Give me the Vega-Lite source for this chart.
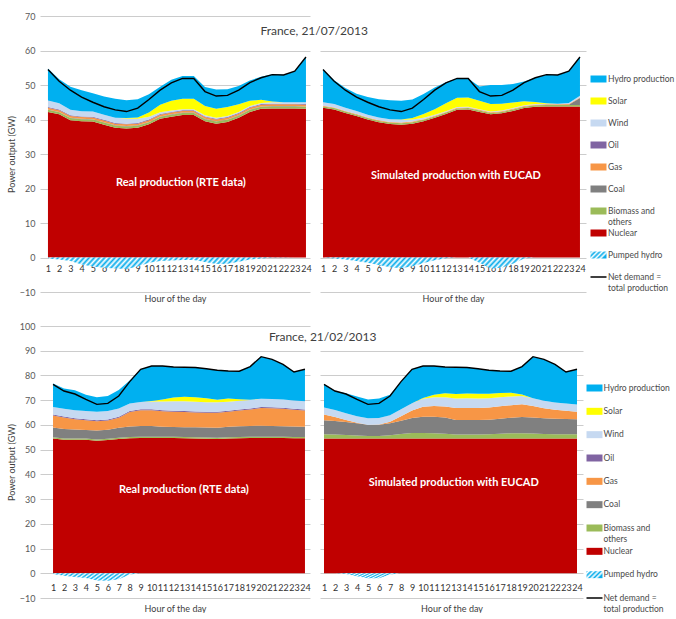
{
  "$schema": "https://vega.github.io/schema/vega-lite/v6.json",
  "background": "white",
  "padding": {"left": 7, "top": 12, "right": 0, "bottom": 0},
  "config": {
    "view": {"stroke": null},
    "font": "Lato",
    "axis": {"labelFont": "Lato", "titleFont": "Lato", "labelOverlap": false, "labelFlush": false, "labelBound": false},
    "axisX": {"domain": false, "ticks": false, "grid": false, "labelOverlap": false, "labelFontSize": 9, "labelColor": "#333333", "titleFontSize": 9, "titleFontWeight": "normal", "titleColor": "#404040"},
    "axisY": {"domain": false, "ticks": false, "grid": true, "gridColor": "#cccccc", "labelOverlap": false, "labelColor": "#595959", "labelFontSize": 9, "labelPadding": 5, "titleFontSize": 9, "titleFontWeight": "normal", "titleColor": "#404040", "titlePadding": 3},
    "title": {"font": "Lato"},
    "text": {"font": "Lato"}
  },
  "datasets": {
    "mix": [
      {"p":"TL","h":1,"Nuclear":42.2,"Biomass":0.6,"Coal":0.1,"Gas":0.5,"Oil":0.2,"Wind":1.9,"Solar":0,"Hydro":9.3,"Pumped":-0.3,"Demand":54.5},
      {"p":"TL","h":2,"Nuclear":41.5,"Biomass":0.6,"Coal":0.1,"Gas":0.5,"Oil":0.2,"Wind":1.8,"Solar":0,"Hydro":7.0,"Pumped":-0.6,"Demand":51.1},
      {"p":"TL","h":3,"Nuclear":39.8,"Biomass":0.6,"Coal":0.1,"Gas":0.5,"Oil":0.2,"Wind":1.6,"Solar":0,"Hydro":6.7,"Pumped":-1.0,"Demand":48.5},
      {"p":"TL","h":4,"Nuclear":39.5,"Biomass":0.6,"Coal":0.1,"Gas":0.5,"Oil":0.2,"Wind":1.5,"Solar":0,"Hydro":6.1,"Pumped":-2.0,"Demand":46.5},
      {"p":"TL","h":5,"Nuclear":39.4,"Biomass":0.6,"Coal":0.1,"Gas":0.5,"Oil":0.2,"Wind":1.5,"Solar":0,"Hydro":5.3,"Pumped":-2.6,"Demand":45.0},
      {"p":"TL","h":6,"Nuclear":38.5,"Biomass":0.6,"Coal":0.1,"Gas":0.5,"Oil":0.2,"Wind":1.5,"Solar":0,"Hydro":5.3,"Pumped":-3.0,"Demand":43.7},
      {"p":"TL","h":7,"Nuclear":37.6,"Biomass":0.6,"Coal":0.1,"Gas":0.5,"Oil":0.2,"Wind":1.5,"Solar":0,"Hydro":5.5,"Pumped":-3.2,"Demand":42.8},
      {"p":"TL","h":8,"Nuclear":37.4,"Biomass":0.6,"Coal":0.1,"Gas":0.5,"Oil":0.2,"Wind":1.5,"Solar":0.1,"Hydro":5.2,"Pumped":-3.3,"Demand":42.3},
      {"p":"TL","h":9,"Nuclear":37.6,"Biomass":0.6,"Coal":0.1,"Gas":0.5,"Oil":0.2,"Wind":1.2,"Solar":0.4,"Hydro":5.3,"Pumped":-2.6,"Demand":43.3},
      {"p":"TL","h":10,"Nuclear":38.6,"Biomass":0.6,"Coal":0.1,"Gas":0.5,"Oil":0.2,"Wind":0.8,"Solar":1.2,"Hydro":5.3,"Pumped":-1.5,"Demand":45.8},
      {"p":"TL","h":11,"Nuclear":40.2,"Biomass":0.6,"Coal":0.1,"Gas":0.5,"Oil":0.2,"Wind":0.5,"Solar":2.2,"Hydro":5.2,"Pumped":-1.0,"Demand":48.5},
      {"p":"TL","h":12,"Nuclear":40.8,"Biomass":0.6,"Coal":0.1,"Gas":0.5,"Oil":0.2,"Wind":0.4,"Solar":2.8,"Hydro":6.1,"Pumped":-0.9,"Demand":50.6},
      {"p":"TL","h":13,"Nuclear":41.3,"Biomass":0.6,"Coal":0.1,"Gas":0.5,"Oil":0.2,"Wind":0.3,"Solar":3.0,"Hydro":6.6,"Pumped":-0.7,"Demand":51.9},
      {"p":"TL","h":14,"Nuclear":41.3,"Biomass":0.6,"Coal":0.1,"Gas":0.5,"Oil":0.2,"Wind":0.3,"Solar":3.0,"Hydro":6.6,"Pumped":-0.7,"Demand":51.9},
      {"p":"TL","h":15,"Nuclear":39.5,"Biomass":0.6,"Coal":0.1,"Gas":0.5,"Oil":0.2,"Wind":0.3,"Solar":2.7,"Hydro":5.5,"Pumped":-1.3,"Demand":48.1},
      {"p":"TL","h":16,"Nuclear":38.8,"Biomass":0.6,"Coal":0.1,"Gas":0.5,"Oil":0.2,"Wind":0.3,"Solar":2.6,"Hydro":5.6,"Pumped":-1.9,"Demand":46.8},
      {"p":"TL","h":17,"Nuclear":39.3,"Biomass":0.6,"Coal":0.1,"Gas":0.5,"Oil":0.2,"Wind":0.3,"Solar":2.6,"Hydro":5.2,"Pumped":-1.8,"Demand":47.0},
      {"p":"TL","h":18,"Nuclear":40.5,"Biomass":0.6,"Coal":0.1,"Gas":0.5,"Oil":0.2,"Wind":0.3,"Solar":2.2,"Hydro":5.3,"Pumped":-1.2,"Demand":48.5},
      {"p":"TL","h":19,"Nuclear":42.2,"Biomass":0.6,"Coal":0.1,"Gas":0.5,"Oil":0.2,"Wind":0.3,"Solar":1.5,"Hydro":5.9,"Pumped":-0.6,"Demand":50.7},
      {"p":"TL","h":20,"Nuclear":43.1,"Biomass":0.6,"Coal":0.1,"Gas":0.5,"Oil":0.2,"Wind":0.3,"Solar":0.9,"Hydro":6.7,"Pumped":-0.3,"Demand":52.1},
      {"p":"TL","h":21,"Nuclear":43.2,"Biomass":0.6,"Coal":0.1,"Gas":0.5,"Oil":0.2,"Wind":0.4,"Solar":0.2,"Hydro":7.9,"Pumped":-0.1,"Demand":53.0},
      {"p":"TL","h":22,"Nuclear":43.2,"Biomass":0.6,"Coal":0.1,"Gas":0.5,"Oil":0.2,"Wind":0.4,"Solar":0,"Hydro":8.0,"Pumped":-0.1,"Demand":52.9},
      {"p":"TL","h":23,"Nuclear":43.2,"Biomass":0.6,"Coal":0.1,"Gas":0.5,"Oil":0.2,"Wind":0.4,"Solar":0,"Hydro":9.0,"Pumped":0,"Demand":54.0},
      {"p":"TL","h":24,"Nuclear":43.1,"Biomass":0.6,"Coal":0.1,"Gas":0.5,"Oil":0.2,"Wind":0.5,"Solar":0,"Hydro":13.1,"Pumped":0,"Demand":58.1},

      {"p":"TR","h":1,"Nuclear":43.4,"Biomass":0.4,"Coal":0,"Gas":0.2,"Oil":0,"Wind":1.0,"Solar":0,"Hydro":9.5,"Pumped":0,"Demand":54.5},
      {"p":"TR","h":2,"Nuclear":42.9,"Biomass":0.4,"Coal":0,"Gas":0.2,"Oil":0,"Wind":1.0,"Solar":0,"Hydro":6.9,"Pumped":-0.3,"Demand":51.1},
      {"p":"TR","h":3,"Nuclear":41.9,"Biomass":0.4,"Coal":0,"Gas":0.2,"Oil":0,"Wind":0.9,"Solar":0,"Hydro":5.7,"Pumped":-0.6,"Demand":48.5},
      {"p":"TR","h":4,"Nuclear":41.0,"Biomass":0.4,"Coal":0,"Gas":0.2,"Oil":0,"Wind":0.9,"Solar":0,"Hydro":5.0,"Pumped":-1.0,"Demand":46.5},
      {"p":"TR","h":5,"Nuclear":40.0,"Biomass":0.4,"Coal":0,"Gas":0.2,"Oil":0,"Wind":0.8,"Solar":0,"Hydro":5.1,"Pumped":-1.5,"Demand":45.0},
      {"p":"TR","h":6,"Nuclear":39.2,"Biomass":0.4,"Coal":0,"Gas":0.2,"Oil":0,"Wind":0.8,"Solar":0,"Hydro":5.3,"Pumped":-2.2,"Demand":43.7},
      {"p":"TR","h":7,"Nuclear":38.7,"Biomass":0.4,"Coal":0,"Gas":0.2,"Oil":0,"Wind":0.8,"Solar":0,"Hydro":5.5,"Pumped":-2.8,"Demand":42.8},
      {"p":"TR","h":8,"Nuclear":38.5,"Biomass":0.4,"Coal":0,"Gas":0.2,"Oil":0,"Wind":0.8,"Solar":0.1,"Hydro":5.4,"Pumped":-3.1,"Demand":42.3},
      {"p":"TR","h":9,"Nuclear":38.8,"Biomass":0.4,"Coal":0,"Gas":0.2,"Oil":0,"Wind":0.6,"Solar":0.4,"Hydro":5.4,"Pumped":-2.5,"Demand":43.3},
      {"p":"TR","h":10,"Nuclear":39.5,"Biomass":0.4,"Coal":0,"Gas":0.2,"Oil":0,"Wind":0.4,"Solar":1.1,"Hydro":5.8,"Pumped":-1.6,"Demand":45.8},
      {"p":"TR","h":11,"Nuclear":40.5,"Biomass":0.4,"Coal":0,"Gas":0.2,"Oil":0,"Wind":0.3,"Solar":1.6,"Hydro":6.3,"Pumped":-0.8,"Demand":48.5},
      {"p":"TR","h":12,"Nuclear":41.6,"Biomass":0.4,"Coal":0,"Gas":0.2,"Oil":0,"Wind":0.2,"Solar":2.3,"Hydro":6.1,"Pumped":-0.2,"Demand":50.6},
      {"p":"TR","h":13,"Nuclear":42.8,"Biomass":0.4,"Coal":0,"Gas":0.2,"Oil":0,"Wind":0.2,"Solar":2.7,"Hydro":5.6,"Pumped":0,"Demand":51.9},
      {"p":"TR","h":14,"Nuclear":42.9,"Biomass":0.4,"Coal":0,"Gas":0.2,"Oil":0,"Wind":0.2,"Solar":2.7,"Hydro":5.5,"Pumped":0,"Demand":51.9},
      {"p":"TR","h":15,"Nuclear":42.2,"Biomass":0.4,"Coal":0,"Gas":0.2,"Oil":0,"Wind":0.2,"Solar":2.4,"Hydro":4.2,"Pumped":-1.5,"Demand":48.1},
      {"p":"TR","h":16,"Nuclear":41.5,"Biomass":0.4,"Coal":0,"Gas":0.2,"Oil":0,"Wind":0.2,"Solar":2.2,"Hydro":5.5,"Pumped":-3.2,"Demand":46.8},
      {"p":"TR","h":17,"Nuclear":41.8,"Biomass":0.4,"Coal":0,"Gas":0.2,"Oil":0,"Wind":0.2,"Solar":2.0,"Hydro":5.4,"Pumped":-3.0,"Demand":47.0},
      {"p":"TR","h":18,"Nuclear":42.5,"Biomass":0.4,"Coal":0,"Gas":0.2,"Oil":0,"Wind":0.2,"Solar":1.6,"Hydro":5.4,"Pumped":-1.8,"Demand":48.5},
      {"p":"TR","h":19,"Nuclear":43.3,"Biomass":0.4,"Coal":0,"Gas":0.2,"Oil":0,"Wind":0.2,"Solar":1.2,"Hydro":5.7,"Pumped":-0.3,"Demand":50.7},
      {"p":"TR","h":20,"Nuclear":43.7,"Biomass":0.4,"Coal":0,"Gas":0.2,"Oil":0,"Wind":0.2,"Solar":0.6,"Hydro":7.0,"Pumped":0,"Demand":52.1},
      {"p":"TR","h":21,"Nuclear":43.8,"Biomass":0.4,"Coal":0,"Gas":0.2,"Oil":0,"Wind":0.2,"Solar":0.1,"Hydro":8.3,"Pumped":0,"Demand":53.0},
      {"p":"TR","h":22,"Nuclear":43.8,"Biomass":0.4,"Coal":0,"Gas":0.2,"Oil":0,"Wind":0.2,"Solar":0,"Hydro":8.3,"Pumped":0,"Demand":52.9},
      {"p":"TR","h":23,"Nuclear":43.8,"Biomass":0.4,"Coal":0.1,"Gas":0.2,"Oil":0,"Wind":0.3,"Solar":0,"Hydro":9.2,"Pumped":0,"Demand":54.0},
      {"p":"TR","h":24,"Nuclear":43.8,"Biomass":0.4,"Coal":2.0,"Gas":0.2,"Oil":0,"Wind":0.5,"Solar":0,"Hydro":11.2,"Pumped":0,"Demand":58.1},

      {"p":"BL","h":1,"Nuclear":54.5,"Biomass":0.5,"Coal":4.0,"Gas":4.8,"Oil":0.4,"Wind":3.0,"Solar":0,"Hydro":9.5,"Pumped":-0.3,"Demand":76.4},
      {"p":"BL","h":2,"Nuclear":54.0,"Biomass":0.5,"Coal":3.8,"Gas":4.7,"Oil":0.4,"Wind":3.1,"Solar":0,"Hydro":8.2,"Pumped":-1.0,"Demand":73.7},
      {"p":"BL","h":3,"Nuclear":54.0,"Biomass":0.5,"Coal":3.6,"Gas":4.2,"Oil":0.4,"Wind":3.2,"Solar":0,"Hydro":8.1,"Pumped":-1.5,"Demand":72.5},
      {"p":"BL","h":4,"Nuclear":54.0,"Biomass":0.5,"Coal":3.4,"Gas":4.0,"Oil":0.4,"Wind":3.3,"Solar":0,"Hydro":6.6,"Pumped":-1.9,"Demand":70.3},
      {"p":"BL","h":5,"Nuclear":53.6,"Biomass":0.5,"Coal":3.6,"Gas":3.8,"Oil":0.4,"Wind":3.4,"Solar":0,"Hydro":5.9,"Pumped":-2.9,"Demand":68.3},
      {"p":"BL","h":6,"Nuclear":53.9,"Biomass":0.5,"Coal":3.6,"Gas":3.8,"Oil":0.4,"Wind":3.4,"Solar":0,"Hydro":6.1,"Pumped":-3.0,"Demand":68.7},
      {"p":"BL","h":7,"Nuclear":54.3,"Biomass":0.5,"Coal":4.1,"Gas":4.0,"Oil":0.4,"Wind":3.3,"Solar":0,"Hydro":7.5,"Pumped":-2.4,"Demand":71.7},
      {"p":"BL","h":8,"Nuclear":54.6,"Biomass":0.5,"Coal":4.3,"Gas":5.8,"Oil":0.4,"Wind":3.1,"Solar":0,"Hydro":9.3,"Pumped":-0.5,"Demand":77.5},
      {"p":"BL","h":9,"Nuclear":54.7,"Biomass":0.5,"Coal":4.4,"Gas":6.3,"Oil":0.4,"Wind":3.0,"Solar":0,"Hydro":13.2,"Pumped":0,"Demand":82.5},
      {"p":"BL","h":10,"Nuclear":54.7,"Biomass":0.5,"Coal":4.4,"Gas":6.3,"Oil":0.4,"Wind":3.2,"Solar":0.2,"Hydro":14.1,"Pumped":0,"Demand":83.8},
      {"p":"BL","h":11,"Nuclear":54.7,"Biomass":0.5,"Coal":4.1,"Gas":6.2,"Oil":0.4,"Wind":3.6,"Solar":0.8,"Hydro":13.5,"Pumped":0,"Demand":83.8},
      {"p":"BL","h":12,"Nuclear":54.7,"Biomass":0.5,"Coal":4.0,"Gas":6.1,"Oil":0.4,"Wind":3.9,"Solar":1.5,"Hydro":12.3,"Pumped":0,"Demand":83.4},
      {"p":"BL","h":13,"Nuclear":54.6,"Biomass":0.5,"Coal":4.0,"Gas":6.1,"Oil":0.4,"Wind":4.0,"Solar":1.8,"Hydro":11.9,"Pumped":0,"Demand":83.3},
      {"p":"BL","h":14,"Nuclear":54.5,"Biomass":0.5,"Coal":4.1,"Gas":5.9,"Oil":0.4,"Wind":4.0,"Solar":1.8,"Hydro":12.0,"Pumped":0,"Demand":83.2},
      {"p":"BL","h":15,"Nuclear":54.4,"Biomass":0.5,"Coal":4.1,"Gas":5.9,"Oil":0.4,"Wind":3.9,"Solar":1.6,"Hydro":11.9,"Pumped":0,"Demand":82.7},
      {"p":"BL","h":16,"Nuclear":54.3,"Biomass":0.5,"Coal":4.1,"Gas":6.0,"Oil":0.4,"Wind":3.9,"Solar":1.0,"Hydro":11.9,"Pumped":0,"Demand":82.1},
      {"p":"BL","h":17,"Nuclear":54.5,"Biomass":0.5,"Coal":4.3,"Gas":6.0,"Oil":0.4,"Wind":3.7,"Solar":1.3,"Hydro":11.1,"Pumped":0,"Demand":81.8},
      {"p":"BL","h":18,"Nuclear":54.6,"Biomass":0.5,"Coal":4.4,"Gas":6.3,"Oil":0.4,"Wind":3.6,"Solar":0.6,"Hydro":11.3,"Pumped":0,"Demand":81.7},
      {"p":"BL","h":19,"Nuclear":54.7,"Biomass":0.5,"Coal":4.4,"Gas":6.6,"Oil":0.4,"Wind":3.5,"Solar":0.1,"Hydro":13.4,"Pumped":0,"Demand":83.6},
      {"p":"BL","h":20,"Nuclear":54.7,"Biomass":0.5,"Coal":4.5,"Gas":7.1,"Oil":0.4,"Wind":3.4,"Solar":0,"Hydro":17.0,"Pumped":0,"Demand":87.6},
      {"p":"BL","h":21,"Nuclear":54.7,"Biomass":0.5,"Coal":4.4,"Gas":7.1,"Oil":0.4,"Wind":3.4,"Solar":0,"Hydro":16.0,"Pumped":0,"Demand":86.5},
      {"p":"BL","h":22,"Nuclear":54.7,"Biomass":0.5,"Coal":4.3,"Gas":7.0,"Oil":0.4,"Wind":3.4,"Solar":0,"Hydro":14.2,"Pumped":0,"Demand":84.5},
      {"p":"BL","h":23,"Nuclear":54.6,"Biomass":0.5,"Coal":4.3,"Gas":6.7,"Oil":0.4,"Wind":3.4,"Solar":0,"Hydro":11.5,"Pumped":0,"Demand":81.4},
      {"p":"BL","h":24,"Nuclear":54.6,"Biomass":0.5,"Coal":4.2,"Gas":6.5,"Oil":0.4,"Wind":3.4,"Solar":0,"Hydro":12.9,"Pumped":0,"Demand":82.5},

      {"p":"BR","h":1,"Nuclear":54.5,"Biomass":1.7,"Coal":5.7,"Gas":2.3,"Oil":0,"Wind":2.8,"Solar":0,"Hydro":9.4,"Pumped":0,"Demand":76.4},
      {"p":"BR","h":2,"Nuclear":54.5,"Biomass":1.6,"Coal":5.5,"Gas":1.6,"Oil":0,"Wind":2.8,"Solar":0,"Hydro":7.7,"Pumped":0,"Demand":73.7},
      {"p":"BR","h":3,"Nuclear":54.5,"Biomass":1.4,"Coal":5.3,"Gas":0.8,"Oil":0,"Wind":2.7,"Solar":0,"Hydro":8.1,"Pumped":-0.3,"Demand":72.5},
      {"p":"BR","h":4,"Nuclear":54.5,"Biomass":1.2,"Coal":5.0,"Gas":0.2,"Oil":0,"Wind":2.6,"Solar":0,"Hydro":8.0,"Pumped":-1.2,"Demand":70.3},
      {"p":"BR","h":5,"Nuclear":54.5,"Biomass":1.0,"Coal":4.6,"Gas":0,"Oil":0,"Wind":2.6,"Solar":0,"Hydro":7.6,"Pumped":-2.0,"Demand":68.3},
      {"p":"BR","h":6,"Nuclear":54.5,"Biomass":1.0,"Coal":4.6,"Gas":0.1,"Oil":0,"Wind":2.6,"Solar":0,"Hydro":7.9,"Pumped":-2.0,"Demand":68.7},
      {"p":"BR","h":7,"Nuclear":54.5,"Biomass":1.3,"Coal":4.9,"Gas":0.6,"Oil":0,"Wind":2.6,"Solar":0,"Hydro":8.3,"Pumped":-0.5,"Demand":71.7},
      {"p":"BR","h":8,"Nuclear":54.5,"Biomass":1.8,"Coal":5.4,"Gas":1.8,"Oil":0,"Wind":2.8,"Solar":0,"Hydro":11.2,"Pumped":0,"Demand":77.5},
      {"p":"BR","h":9,"Nuclear":54.5,"Biomass":2.2,"Coal":6.1,"Gas":3.0,"Oil":0,"Wind":3.0,"Solar":0,"Hydro":13.7,"Pumped":0,"Demand":82.5},
      {"p":"BR","h":10,"Nuclear":54.5,"Biomass":2.2,"Coal":6.6,"Gas":4.0,"Oil":0,"Wind":3.3,"Solar":0.3,"Hydro":12.9,"Pumped":0,"Demand":83.8},
      {"p":"BR","h":11,"Nuclear":54.5,"Biomass":2.1,"Coal":6.7,"Gas":4.3,"Oil":0,"Wind":3.6,"Solar":1.0,"Hydro":11.6,"Pumped":0,"Demand":83.8},
      {"p":"BR","h":12,"Nuclear":54.5,"Biomass":1.9,"Coal":6.6,"Gas":4.4,"Oil":0,"Wind":3.8,"Solar":1.6,"Hydro":10.6,"Pumped":0,"Demand":83.4},
      {"p":"BR","h":13,"Nuclear":54.5,"Biomass":1.6,"Coal":5.9,"Gas":4.8,"Oil":0,"Wind":3.9,"Solar":1.8,"Hydro":10.8,"Pumped":0,"Demand":83.3},
      {"p":"BR","h":14,"Nuclear":54.5,"Biomass":1.6,"Coal":5.9,"Gas":4.8,"Oil":0,"Wind":4.0,"Solar":1.9,"Hydro":10.5,"Pumped":0,"Demand":83.2},
      {"p":"BR","h":15,"Nuclear":54.5,"Biomass":1.6,"Coal":5.9,"Gas":4.8,"Oil":0,"Wind":3.9,"Solar":1.9,"Hydro":10.1,"Pumped":0,"Demand":82.7},
      {"p":"BR","h":16,"Nuclear":54.5,"Biomass":1.7,"Coal":5.9,"Gas":4.9,"Oil":0,"Wind":3.8,"Solar":1.8,"Hydro":9.5,"Pumped":0,"Demand":82.1},
      {"p":"BR","h":17,"Nuclear":54.5,"Biomass":1.9,"Coal":6.1,"Gas":5.0,"Oil":0,"Wind":3.7,"Solar":1.7,"Hydro":8.9,"Pumped":0,"Demand":81.8},
      {"p":"BR","h":18,"Nuclear":54.5,"Biomass":2.1,"Coal":6.3,"Gas":5.1,"Oil":0,"Wind":3.5,"Solar":1.5,"Hydro":8.7,"Pumped":0,"Demand":81.7},
      {"p":"BR","h":19,"Nuclear":54.5,"Biomass":2.1,"Coal":6.6,"Gas":5.2,"Oil":0,"Wind":3.3,"Solar":0.6,"Hydro":11.3,"Pumped":0,"Demand":83.6},
      {"p":"BR","h":20,"Nuclear":54.5,"Biomass":2.0,"Coal":6.5,"Gas":4.6,"Oil":0,"Wind":3.2,"Solar":0,"Hydro":16.8,"Pumped":0,"Demand":87.6},
      {"p":"BR","h":21,"Nuclear":54.5,"Biomass":1.8,"Coal":6.4,"Gas":4.0,"Oil":0,"Wind":3.1,"Solar":0,"Hydro":16.7,"Pumped":0,"Demand":86.5},
      {"p":"BR","h":22,"Nuclear":54.5,"Biomass":1.7,"Coal":6.3,"Gas":3.6,"Oil":0,"Wind":3.0,"Solar":0,"Hydro":15.4,"Pumped":0,"Demand":84.5},
      {"p":"BR","h":23,"Nuclear":54.5,"Biomass":1.7,"Coal":6.2,"Gas":3.3,"Oil":0,"Wind":3.0,"Solar":0,"Hydro":12.7,"Pumped":0,"Demand":81.4},
      {"p":"BR","h":24,"Nuclear":54.5,"Biomass":1.7,"Coal":6.1,"Gas":3.0,"Oil":0,"Wind":3.0,"Solar":0,"Hydro":14.2,"Pumped":0,"Demand":82.5}
    ],
    "notes": [
      {"p": "TL", "label": "Real production (RTE data)"},
      {"p": "TR", "label": "Simulated production with EUCAD"},
      {"p": "BL", "label": "Real production (RTE data)"},
      {"p": "BR", "label": "Simulated production with EUCAD"}
    ],
    "keys": [
      {"k": "Hydro", "label": "Hydro production"},
      {"k": "Solar", "label": "Solar"},
      {"k": "Wind", "label": "Wind"},
      {"k": "Oil", "label": "Oil"},
      {"k": "Gas", "label": "Gas"},
      {"k": "Coal", "label": "Coal"},
      {"k": "Biomass", "label": "Biomass and\nothers"},
      {"k": "Nuclear", "label": "Nuclear"},
      {"k": "Pumped", "label": "Pumped hydro"},
      {"k": "Demand", "label": "Net demand =\ntotal production"}
    ]
  },
  "spacing": 19,
  "vconcat": [
    {
      "title": {"text": "France, 21/07/2013", "anchor": "middle", "offset": -26, "dx": -30, "fontSize": 12, "fontWeight": "normal", "color": "#404040"},
      "bounds": "flush",
      "spacing": 10,
      "hconcat": [
        {
          "width": 270, "height": 276,
          "data": {"name": "mix"},
          "layer": [
            {
              "transform": [
                {"filter": "datum.p === 'TL'"},
                {"fold": ["Nuclear", "Biomass", "Coal", "Gas", "Oil", "Wind", "Solar", "Hydro"], "as": ["source", "gw"]},
                {"calculate": "indexof(['Nuclear','Biomass','Coal','Gas','Oil','Wind','Solar','Hydro'], datum.source)", "as": "rank"}
              ],
              "mark": {"type": "area", "opacity": 1},
              "encoding": {
                "x": {"field": "h", "type": "quantitative", "title": "Hour of the day", "scale": {"domain": [0.29, 24.36], "nice": false, "zero": false},
                  "axis": {"values": [1,2,3,4,5,6,7,8,9,10,11,12,13,14,15,16,17,18,19,20,21,22,23,24], "offset": -35, "labelOverlap": false, "labelPadding": 7, "titlePadding": 21}},
                "y": {"field": "gw", "type": "quantitative", "stack": "zero", "title": "Power output (GW)", "scale": {"domain": [-10, 70], "nice": false, "zero": false},
                  "axis": {"values": [-10,0,10,20,30,40,50,60,70], "labelOverlap": false}},
                "color": {"field": "source", "type": "nominal", "legend": null,
                  "scale": {"domain": ["Hydro", "Solar", "Wind", "Oil", "Gas", "Coal", "Biomass", "Nuclear"], "range": ["#00B0F0", "#FFFF00", "#C6D9F1", "#8064A2", "#F79646", "#808080", "#9BBB59", "#C00000"]}},
                "order": {"field": "rank", "type": "quantitative"}
              }
            },
            {
              "transform": [{"filter": "datum.p === 'TL'"}],
              "mark": {"type": "area", "opacity": 1,
                "color": {"gradient": "linear", "x1": 0, "y1": 0, "x2": 1, "y2": 0.04, "stops": [
                  {"offset": 0, "color": "#0AADEB"}, {"offset": 0.01, "color": "#FFFFFF"}, {"offset": 0.02, "color": "#0AADEB"}, {"offset": 0.03, "color": "#FFFFFF"}, {"offset": 0.04, "color": "#0AADEB"}, {"offset": 0.05, "color": "#FFFFFF"}, {"offset": 0.06, "color": "#0AADEB"}, {"offset": 0.07, "color": "#FFFFFF"}, {"offset": 0.08, "color": "#0AADEB"}, {"offset": 0.09, "color": "#FFFFFF"},
                  {"offset": 0.1, "color": "#0AADEB"}, {"offset": 0.11, "color": "#FFFFFF"}, {"offset": 0.12, "color": "#0AADEB"}, {"offset": 0.13, "color": "#FFFFFF"}, {"offset": 0.14, "color": "#0AADEB"}, {"offset": 0.15, "color": "#FFFFFF"}, {"offset": 0.16, "color": "#0AADEB"}, {"offset": 0.17, "color": "#FFFFFF"}, {"offset": 0.18, "color": "#0AADEB"}, {"offset": 0.19, "color": "#FFFFFF"},
                  {"offset": 0.2, "color": "#0AADEB"}, {"offset": 0.21, "color": "#FFFFFF"}, {"offset": 0.22, "color": "#0AADEB"}, {"offset": 0.23, "color": "#FFFFFF"}, {"offset": 0.24, "color": "#0AADEB"}, {"offset": 0.25, "color": "#FFFFFF"}, {"offset": 0.26, "color": "#0AADEB"}, {"offset": 0.27, "color": "#FFFFFF"}, {"offset": 0.28, "color": "#0AADEB"}, {"offset": 0.29, "color": "#FFFFFF"},
                  {"offset": 0.3, "color": "#0AADEB"}, {"offset": 0.31, "color": "#FFFFFF"}, {"offset": 0.32, "color": "#0AADEB"}, {"offset": 0.33, "color": "#FFFFFF"}, {"offset": 0.34, "color": "#0AADEB"}, {"offset": 0.35, "color": "#FFFFFF"}, {"offset": 0.36, "color": "#0AADEB"}, {"offset": 0.37, "color": "#FFFFFF"}, {"offset": 0.38, "color": "#0AADEB"}, {"offset": 0.39, "color": "#FFFFFF"},
                  {"offset": 0.4, "color": "#0AADEB"}, {"offset": 0.41, "color": "#FFFFFF"}, {"offset": 0.42, "color": "#0AADEB"}, {"offset": 0.43, "color": "#FFFFFF"}, {"offset": 0.44, "color": "#0AADEB"}, {"offset": 0.45, "color": "#FFFFFF"}, {"offset": 0.46, "color": "#0AADEB"}, {"offset": 0.47, "color": "#FFFFFF"}, {"offset": 0.48, "color": "#0AADEB"}, {"offset": 0.49, "color": "#FFFFFF"},
                  {"offset": 0.5, "color": "#0AADEB"}, {"offset": 0.51, "color": "#FFFFFF"}, {"offset": 0.52, "color": "#0AADEB"}, {"offset": 0.53, "color": "#FFFFFF"}, {"offset": 0.54, "color": "#0AADEB"}, {"offset": 0.55, "color": "#FFFFFF"}, {"offset": 0.56, "color": "#0AADEB"}, {"offset": 0.57, "color": "#FFFFFF"}, {"offset": 0.58, "color": "#0AADEB"}, {"offset": 0.59, "color": "#FFFFFF"},
                  {"offset": 0.6, "color": "#0AADEB"}, {"offset": 0.61, "color": "#FFFFFF"}, {"offset": 0.62, "color": "#0AADEB"}, {"offset": 0.63, "color": "#FFFFFF"}, {"offset": 0.64, "color": "#0AADEB"}, {"offset": 0.65, "color": "#FFFFFF"}, {"offset": 0.66, "color": "#0AADEB"}, {"offset": 0.67, "color": "#FFFFFF"}, {"offset": 0.68, "color": "#0AADEB"}, {"offset": 0.69, "color": "#FFFFFF"},
                  {"offset": 0.7, "color": "#0AADEB"}, {"offset": 0.71, "color": "#FFFFFF"}, {"offset": 0.72, "color": "#0AADEB"}, {"offset": 0.73, "color": "#FFFFFF"}, {"offset": 0.74, "color": "#0AADEB"}, {"offset": 0.75, "color": "#FFFFFF"}, {"offset": 0.76, "color": "#0AADEB"}, {"offset": 0.77, "color": "#FFFFFF"}, {"offset": 0.78, "color": "#0AADEB"}, {"offset": 0.79, "color": "#FFFFFF"},
                  {"offset": 0.8, "color": "#0AADEB"}, {"offset": 0.81, "color": "#FFFFFF"}, {"offset": 0.82, "color": "#0AADEB"}, {"offset": 0.83, "color": "#FFFFFF"}, {"offset": 0.84, "color": "#0AADEB"}, {"offset": 0.85, "color": "#FFFFFF"}, {"offset": 0.86, "color": "#0AADEB"}, {"offset": 0.87, "color": "#FFFFFF"}, {"offset": 0.88, "color": "#0AADEB"}, {"offset": 0.89, "color": "#FFFFFF"},
                  {"offset": 0.9, "color": "#0AADEB"}, {"offset": 0.91, "color": "#FFFFFF"}, {"offset": 0.92, "color": "#0AADEB"}, {"offset": 0.93, "color": "#FFFFFF"}, {"offset": 0.94, "color": "#0AADEB"}, {"offset": 0.95, "color": "#FFFFFF"}, {"offset": 0.96, "color": "#0AADEB"}, {"offset": 0.97, "color": "#FFFFFF"}, {"offset": 0.98, "color": "#0AADEB"}, {"offset": 0.99, "color": "#FFFFFF"}, {"offset": 1, "color": "#0AADEB"}]}},
              "encoding": {
                "x": {"field": "h", "type": "quantitative", "title": "Hour of the day",
                  "axis": {"values": [1,2,3,4,5,6,7,8,9,10,11,12,13,14,15,16,17,18,19,20,21,22,23,24], "offset": -35, "labelOverlap": false, "labelPadding": 7, "titlePadding": 21}},
                "y": {"field": "Pumped", "type": "quantitative", "title": "Power output (GW)",
                  "axis": {"values": [-10,0,10,20,30,40,50,60,70], "labelOverlap": false}}
              }
            },
            {
              "transform": [{"filter": "datum.p === 'TL'"}],
              "mark": {"type": "line", "color": "#000000", "strokeWidth": 1.4},
              "encoding": {
                "x": {"field": "h", "type": "quantitative", "title": "Hour of the day",
                  "axis": {"values": [1,2,3,4,5,6,7,8,9,10,11,12,13,14,15,16,17,18,19,20,21,22,23,24], "offset": -35, "labelOverlap": false, "labelPadding": 7, "titlePadding": 21}},
                "y": {"field": "Demand", "type": "quantitative", "title": "Power output (GW)",
                  "axis": {"values": [-10,0,10,20,30,40,50,60,70], "labelOverlap": false}}
              }
            },
            {
              "data": {"name": "notes"},
              "transform": [{"filter": "datum.p === 'TL'"}],
              "mark": {"type": "text", "color": "#ffffff", "fontWeight": "bold", "fontSize": 11},
              "encoding": {
                "x": {"datum": 12.85, "type": "quantitative", "title": "Hour of the day",
                  "axis": {"values": [1,2,3,4,5,6,7,8,9,10,11,12,13,14,15,16,17,18,19,20,21,22,23,24], "offset": -35, "labelOverlap": false, "labelPadding": 7, "titlePadding": 21}},
                "y": {"datum": 21.7, "type": "quantitative", "title": "Power output (GW)",
                  "axis": {"values": [-10,0,10,20,30,40,50,60,70], "labelOverlap": false}},
                "text": {"field": "label"}
              }
            }
          ]
        },
        {
          "width": 266, "height": 276,
          "data": {"name": "mix"},
          "layer": [
            {
              "transform": [
                {"filter": "datum.p === 'TR'"},
                {"fold": ["Nuclear", "Biomass", "Coal", "Gas", "Oil", "Wind", "Solar", "Hydro"], "as": ["source", "gw"]},
                {"calculate": "indexof(['Nuclear','Biomass','Coal','Gas','Oil','Wind','Solar','Hydro'], datum.source)", "as": "rank"}
              ],
              "mark": {"type": "area", "opacity": 1},
              "encoding": {
                "x": {"field": "h", "type": "quantitative", "title": "Hour of the day", "scale": {"domain": [0.73, 24.54], "nice": false, "zero": false},
                  "axis": {"values": [1,2,3,4,5,6,7,8,9,10,11,12,13,14,15,16,17,18,19,20,21,22,23,24], "offset": -35, "labelOverlap": false, "labelPadding": 7, "titlePadding": 21}},
                "y": {"field": "gw", "type": "quantitative", "stack": "zero", "title": null, "scale": {"domain": [-10, 70], "nice": false, "zero": false},
                  "axis": {"values": [-10,0,10,20,30,40,50,60], "labels": false}},
                "color": {"field": "source", "type": "nominal", "legend": null,
                  "scale": {"domain": ["Hydro", "Solar", "Wind", "Oil", "Gas", "Coal", "Biomass", "Nuclear"], "range": ["#00B0F0", "#FFFF00", "#C6D9F1", "#8064A2", "#F79646", "#808080", "#9BBB59", "#C00000"]}},
                "order": {"field": "rank", "type": "quantitative"}
              }
            },
            {
              "transform": [{"filter": "datum.p === 'TR'"}],
              "mark": {"type": "area", "opacity": 1,
                "color": {"gradient": "linear", "x1": 0, "y1": 0, "x2": 1, "y2": 0.04, "stops": [
                  {"offset": 0, "color": "#0AADEB"}, {"offset": 0.01, "color": "#FFFFFF"}, {"offset": 0.02, "color": "#0AADEB"}, {"offset": 0.03, "color": "#FFFFFF"}, {"offset": 0.04, "color": "#0AADEB"}, {"offset": 0.05, "color": "#FFFFFF"}, {"offset": 0.06, "color": "#0AADEB"}, {"offset": 0.07, "color": "#FFFFFF"}, {"offset": 0.08, "color": "#0AADEB"}, {"offset": 0.09, "color": "#FFFFFF"},
                  {"offset": 0.1, "color": "#0AADEB"}, {"offset": 0.11, "color": "#FFFFFF"}, {"offset": 0.12, "color": "#0AADEB"}, {"offset": 0.13, "color": "#FFFFFF"}, {"offset": 0.14, "color": "#0AADEB"}, {"offset": 0.15, "color": "#FFFFFF"}, {"offset": 0.16, "color": "#0AADEB"}, {"offset": 0.17, "color": "#FFFFFF"}, {"offset": 0.18, "color": "#0AADEB"}, {"offset": 0.19, "color": "#FFFFFF"},
                  {"offset": 0.2, "color": "#0AADEB"}, {"offset": 0.21, "color": "#FFFFFF"}, {"offset": 0.22, "color": "#0AADEB"}, {"offset": 0.23, "color": "#FFFFFF"}, {"offset": 0.24, "color": "#0AADEB"}, {"offset": 0.25, "color": "#FFFFFF"}, {"offset": 0.26, "color": "#0AADEB"}, {"offset": 0.27, "color": "#FFFFFF"}, {"offset": 0.28, "color": "#0AADEB"}, {"offset": 0.29, "color": "#FFFFFF"},
                  {"offset": 0.3, "color": "#0AADEB"}, {"offset": 0.31, "color": "#FFFFFF"}, {"offset": 0.32, "color": "#0AADEB"}, {"offset": 0.33, "color": "#FFFFFF"}, {"offset": 0.34, "color": "#0AADEB"}, {"offset": 0.35, "color": "#FFFFFF"}, {"offset": 0.36, "color": "#0AADEB"}, {"offset": 0.37, "color": "#FFFFFF"}, {"offset": 0.38, "color": "#0AADEB"}, {"offset": 0.39, "color": "#FFFFFF"},
                  {"offset": 0.4, "color": "#0AADEB"}, {"offset": 0.41, "color": "#FFFFFF"}, {"offset": 0.42, "color": "#0AADEB"}, {"offset": 0.43, "color": "#FFFFFF"}, {"offset": 0.44, "color": "#0AADEB"}, {"offset": 0.45, "color": "#FFFFFF"}, {"offset": 0.46, "color": "#0AADEB"}, {"offset": 0.47, "color": "#FFFFFF"}, {"offset": 0.48, "color": "#0AADEB"}, {"offset": 0.49, "color": "#FFFFFF"},
                  {"offset": 0.5, "color": "#0AADEB"}, {"offset": 0.51, "color": "#FFFFFF"}, {"offset": 0.52, "color": "#0AADEB"}, {"offset": 0.53, "color": "#FFFFFF"}, {"offset": 0.54, "color": "#0AADEB"}, {"offset": 0.55, "color": "#FFFFFF"}, {"offset": 0.56, "color": "#0AADEB"}, {"offset": 0.57, "color": "#FFFFFF"}, {"offset": 0.58, "color": "#0AADEB"}, {"offset": 0.59, "color": "#FFFFFF"},
                  {"offset": 0.6, "color": "#0AADEB"}, {"offset": 0.61, "color": "#FFFFFF"}, {"offset": 0.62, "color": "#0AADEB"}, {"offset": 0.63, "color": "#FFFFFF"}, {"offset": 0.64, "color": "#0AADEB"}, {"offset": 0.65, "color": "#FFFFFF"}, {"offset": 0.66, "color": "#0AADEB"}, {"offset": 0.67, "color": "#FFFFFF"}, {"offset": 0.68, "color": "#0AADEB"}, {"offset": 0.69, "color": "#FFFFFF"},
                  {"offset": 0.7, "color": "#0AADEB"}, {"offset": 0.71, "color": "#FFFFFF"}, {"offset": 0.72, "color": "#0AADEB"}, {"offset": 0.73, "color": "#FFFFFF"}, {"offset": 0.74, "color": "#0AADEB"}, {"offset": 0.75, "color": "#FFFFFF"}, {"offset": 0.76, "color": "#0AADEB"}, {"offset": 0.77, "color": "#FFFFFF"}, {"offset": 0.78, "color": "#0AADEB"}, {"offset": 0.79, "color": "#FFFFFF"},
                  {"offset": 0.8, "color": "#0AADEB"}, {"offset": 0.81, "color": "#FFFFFF"}, {"offset": 0.82, "color": "#0AADEB"}, {"offset": 0.83, "color": "#FFFFFF"}, {"offset": 0.84, "color": "#0AADEB"}, {"offset": 0.85, "color": "#FFFFFF"}, {"offset": 0.86, "color": "#0AADEB"}, {"offset": 0.87, "color": "#FFFFFF"}, {"offset": 0.88, "color": "#0AADEB"}, {"offset": 0.89, "color": "#FFFFFF"},
                  {"offset": 0.9, "color": "#0AADEB"}, {"offset": 0.91, "color": "#FFFFFF"}, {"offset": 0.92, "color": "#0AADEB"}, {"offset": 0.93, "color": "#FFFFFF"}, {"offset": 0.94, "color": "#0AADEB"}, {"offset": 0.95, "color": "#FFFFFF"}, {"offset": 0.96, "color": "#0AADEB"}, {"offset": 0.97, "color": "#FFFFFF"}, {"offset": 0.98, "color": "#0AADEB"}, {"offset": 0.99, "color": "#FFFFFF"}, {"offset": 1, "color": "#0AADEB"}]}},
              "encoding": {
                "x": {"field": "h", "type": "quantitative", "title": "Hour of the day",
                  "axis": {"values": [1,2,3,4,5,6,7,8,9,10,11,12,13,14,15,16,17,18,19,20,21,22,23,24], "offset": -35, "labelOverlap": false, "labelPadding": 7, "titlePadding": 21}},
                "y": {"field": "Pumped", "type": "quantitative", "title": null,
                  "axis": {"values": [-10,0,10,20,30,40,50,60], "labels": false}}
              }
            },
            {
              "transform": [{"filter": "datum.p === 'TR'"}],
              "mark": {"type": "line", "color": "#000000", "strokeWidth": 1.4},
              "encoding": {
                "x": {"field": "h", "type": "quantitative", "title": "Hour of the day",
                  "axis": {"values": [1,2,3,4,5,6,7,8,9,10,11,12,13,14,15,16,17,18,19,20,21,22,23,24], "offset": -35, "labelOverlap": false, "labelPadding": 7, "titlePadding": 21}},
                "y": {"field": "Demand", "type": "quantitative", "title": null,
                  "axis": {"values": [-10,0,10,20,30,40,50,60], "labels": false}}
              }
            },
            {
              "data": {"name": "notes"},
              "transform": [{"filter": "datum.p === 'TR'"}],
              "mark": {"type": "text", "color": "#ffffff", "fontWeight": "bold", "fontSize": 11},
              "encoding": {
                "x": {"datum": 12.9, "type": "quantitative", "title": "Hour of the day",
                  "axis": {"values": [1,2,3,4,5,6,7,8,9,10,11,12,13,14,15,16,17,18,19,20,21,22,23,24], "offset": -35, "labelOverlap": false, "labelPadding": 7, "titlePadding": 21}},
                "y": {"datum": 23.5, "type": "quantitative", "title": null,
                  "axis": {"values": [-10,0,10,20,30,40,50,60], "labels": false}},
                "text": {"field": "label"}
              }
            }
          ]
        },
        {
          "width": 85, "height": 276,
          "data": {"name": "keys"},
          "encoding": {
            "y": {"field": "label", "type": "nominal", "axis": null,
              "scale": {"type": "point", "padding": 0, "range": [63, 261],
                "domain": ["Hydro production", "Solar", "Wind", "Oil", "Gas", "Coal", "Biomass and\nothers", "Nuclear", "Pumped hydro", "Net demand =\ntotal production"]}}
          },
          "layer": [
            {
              "transform": [{"filter": "datum.k !== 'Pumped' && datum.k !== 'Demand'"}],
              "mark": {"type": "tick", "orient": "horizontal", "thickness": 7, "size": 16, "opacity": 1},
              "encoding": {
                "x": {"datum": 2.5, "type": "quantitative", "axis": null, "scale": {"domain": [0, 85], "nice": false, "zero": false}},
                "color": {"field": "k", "type": "nominal", "legend": null,
                  "scale": {"domain": ["Hydro", "Solar", "Wind", "Oil", "Gas", "Coal", "Biomass", "Nuclear"], "range": ["#00B0F0", "#FFFF00", "#C6D9F1", "#8064A2", "#F79646", "#808080", "#9BBB59", "#C00000"]}}
              }
            },
            {
              "transform": [{"filter": "datum.k === 'Pumped'"}],
              "mark": {"type": "tick", "orient": "horizontal", "thickness": 7, "size": 16, "opacity": 1,
                "color": {"gradient": "linear", "x1": 0, "y1": 0, "x2": 1, "y2": 0.44, "stops": [
                  {"offset": 0, "color": "#0AADEB"}, {"offset": 0.125, "color": "#FFFFFF"}, {"offset": 0.25, "color": "#0AADEB"}, {"offset": 0.375, "color": "#FFFFFF"}, {"offset": 0.5, "color": "#0AADEB"}, {"offset": 0.625, "color": "#FFFFFF"}, {"offset": 0.75, "color": "#0AADEB"}, {"offset": 0.875, "color": "#FFFFFF"}, {"offset": 1, "color": "#0AADEB"}]}},
              "encoding": {"x": {"datum": 2.5, "type": "quantitative"}}
            },
            {
              "transform": [{"filter": "datum.k === 'Demand'"}],
              "mark": {"type": "tick", "orient": "horizontal", "thickness": 1.5, "size": 16, "opacity": 1, "color": "#000000"},
              "encoding": {"x": {"datum": 2.5, "type": "quantitative"}}
            },
            {
              "mark": {"type": "text", "align": "left", "baseline": "top", "dy": -4.5, "lineBreak": "\n", "lineHeight": 11, "fontSize": 8.5, "color": "#4a4a4a"},
              "encoding": {"x": {"datum": 12, "type": "quantitative"}, "text": {"field": "label"}}
            }
          ]
        }
      ]
    },
    {
      "title": {"text": "France, 21/02/2013", "anchor": "middle", "offset": -22, "dx": -20, "fontSize": 12, "fontWeight": "normal", "color": "#404040"},
      "bounds": "flush",
      "spacing": 10,
      "hconcat": [
        {
          "width": 270, "height": 272,
          "data": {"name": "mix"},
          "layer": [
            {
              "transform": [
                {"filter": "datum.p === 'BL'"},
                {"fold": ["Nuclear", "Biomass", "Coal", "Gas", "Oil", "Wind", "Solar", "Hydro"], "as": ["source", "gw"]},
                {"calculate": "indexof(['Nuclear','Biomass','Coal','Gas','Oil','Wind','Solar','Hydro'], datum.source)", "as": "rank"}
              ],
              "mark": {"type": "area", "opacity": 1},
              "encoding": {
                "x": {"field": "h", "type": "quantitative", "title": "Hour of the day", "scale": {"domain": [-0.19, 24.46], "nice": false, "zero": false},
                  "axis": {"values": [1,2,3,4,5,6,7,8,9,10,11,12,13,14,15,16,17,18,19,20,21,22,23,24], "offset": -25, "labelOverlap": false, "labelPadding": 10, "titlePadding": 12}},
                "y": {"field": "gw", "type": "quantitative", "stack": "zero", "title": "Power output (GW)", "scale": {"domain": [-10, 100], "nice": false, "zero": false},
                  "axis": {"values": [-10,0,10,20,30,40,50,60,70,80,90,100], "labelOverlap": false}},
                "color": {"field": "source", "type": "nominal", "legend": null,
                  "scale": {"domain": ["Hydro", "Solar", "Wind", "Oil", "Gas", "Coal", "Biomass", "Nuclear"], "range": ["#00B0F0", "#FFFF00", "#C6D9F1", "#8064A2", "#F79646", "#808080", "#9BBB59", "#C00000"]}},
                "order": {"field": "rank", "type": "quantitative"}
              }
            },
            {
              "transform": [{"filter": "datum.p === 'BL'"}],
              "mark": {"type": "area", "opacity": 1,
                "color": {"gradient": "linear", "x1": 0, "y1": 0, "x2": 1, "y2": 0.04, "stops": [
                  {"offset": 0, "color": "#0AADEB"}, {"offset": 0.01, "color": "#FFFFFF"}, {"offset": 0.02, "color": "#0AADEB"}, {"offset": 0.03, "color": "#FFFFFF"}, {"offset": 0.04, "color": "#0AADEB"}, {"offset": 0.05, "color": "#FFFFFF"}, {"offset": 0.06, "color": "#0AADEB"}, {"offset": 0.07, "color": "#FFFFFF"}, {"offset": 0.08, "color": "#0AADEB"}, {"offset": 0.09, "color": "#FFFFFF"},
                  {"offset": 0.1, "color": "#0AADEB"}, {"offset": 0.11, "color": "#FFFFFF"}, {"offset": 0.12, "color": "#0AADEB"}, {"offset": 0.13, "color": "#FFFFFF"}, {"offset": 0.14, "color": "#0AADEB"}, {"offset": 0.15, "color": "#FFFFFF"}, {"offset": 0.16, "color": "#0AADEB"}, {"offset": 0.17, "color": "#FFFFFF"}, {"offset": 0.18, "color": "#0AADEB"}, {"offset": 0.19, "color": "#FFFFFF"},
                  {"offset": 0.2, "color": "#0AADEB"}, {"offset": 0.21, "color": "#FFFFFF"}, {"offset": 0.22, "color": "#0AADEB"}, {"offset": 0.23, "color": "#FFFFFF"}, {"offset": 0.24, "color": "#0AADEB"}, {"offset": 0.25, "color": "#FFFFFF"}, {"offset": 0.26, "color": "#0AADEB"}, {"offset": 0.27, "color": "#FFFFFF"}, {"offset": 0.28, "color": "#0AADEB"}, {"offset": 0.29, "color": "#FFFFFF"},
                  {"offset": 0.3, "color": "#0AADEB"}, {"offset": 0.31, "color": "#FFFFFF"}, {"offset": 0.32, "color": "#0AADEB"}, {"offset": 0.33, "color": "#FFFFFF"}, {"offset": 0.34, "color": "#0AADEB"}, {"offset": 0.35, "color": "#FFFFFF"}, {"offset": 0.36, "color": "#0AADEB"}, {"offset": 0.37, "color": "#FFFFFF"}, {"offset": 0.38, "color": "#0AADEB"}, {"offset": 0.39, "color": "#FFFFFF"},
                  {"offset": 0.4, "color": "#0AADEB"}, {"offset": 0.41, "color": "#FFFFFF"}, {"offset": 0.42, "color": "#0AADEB"}, {"offset": 0.43, "color": "#FFFFFF"}, {"offset": 0.44, "color": "#0AADEB"}, {"offset": 0.45, "color": "#FFFFFF"}, {"offset": 0.46, "color": "#0AADEB"}, {"offset": 0.47, "color": "#FFFFFF"}, {"offset": 0.48, "color": "#0AADEB"}, {"offset": 0.49, "color": "#FFFFFF"},
                  {"offset": 0.5, "color": "#0AADEB"}, {"offset": 0.51, "color": "#FFFFFF"}, {"offset": 0.52, "color": "#0AADEB"}, {"offset": 0.53, "color": "#FFFFFF"}, {"offset": 0.54, "color": "#0AADEB"}, {"offset": 0.55, "color": "#FFFFFF"}, {"offset": 0.56, "color": "#0AADEB"}, {"offset": 0.57, "color": "#FFFFFF"}, {"offset": 0.58, "color": "#0AADEB"}, {"offset": 0.59, "color": "#FFFFFF"},
                  {"offset": 0.6, "color": "#0AADEB"}, {"offset": 0.61, "color": "#FFFFFF"}, {"offset": 0.62, "color": "#0AADEB"}, {"offset": 0.63, "color": "#FFFFFF"}, {"offset": 0.64, "color": "#0AADEB"}, {"offset": 0.65, "color": "#FFFFFF"}, {"offset": 0.66, "color": "#0AADEB"}, {"offset": 0.67, "color": "#FFFFFF"}, {"offset": 0.68, "color": "#0AADEB"}, {"offset": 0.69, "color": "#FFFFFF"},
                  {"offset": 0.7, "color": "#0AADEB"}, {"offset": 0.71, "color": "#FFFFFF"}, {"offset": 0.72, "color": "#0AADEB"}, {"offset": 0.73, "color": "#FFFFFF"}, {"offset": 0.74, "color": "#0AADEB"}, {"offset": 0.75, "color": "#FFFFFF"}, {"offset": 0.76, "color": "#0AADEB"}, {"offset": 0.77, "color": "#FFFFFF"}, {"offset": 0.78, "color": "#0AADEB"}, {"offset": 0.79, "color": "#FFFFFF"},
                  {"offset": 0.8, "color": "#0AADEB"}, {"offset": 0.81, "color": "#FFFFFF"}, {"offset": 0.82, "color": "#0AADEB"}, {"offset": 0.83, "color": "#FFFFFF"}, {"offset": 0.84, "color": "#0AADEB"}, {"offset": 0.85, "color": "#FFFFFF"}, {"offset": 0.86, "color": "#0AADEB"}, {"offset": 0.87, "color": "#FFFFFF"}, {"offset": 0.88, "color": "#0AADEB"}, {"offset": 0.89, "color": "#FFFFFF"},
                  {"offset": 0.9, "color": "#0AADEB"}, {"offset": 0.91, "color": "#FFFFFF"}, {"offset": 0.92, "color": "#0AADEB"}, {"offset": 0.93, "color": "#FFFFFF"}, {"offset": 0.94, "color": "#0AADEB"}, {"offset": 0.95, "color": "#FFFFFF"}, {"offset": 0.96, "color": "#0AADEB"}, {"offset": 0.97, "color": "#FFFFFF"}, {"offset": 0.98, "color": "#0AADEB"}, {"offset": 0.99, "color": "#FFFFFF"}, {"offset": 1, "color": "#0AADEB"}]}},
              "encoding": {
                "x": {"field": "h", "type": "quantitative", "title": "Hour of the day",
                  "axis": {"values": [1,2,3,4,5,6,7,8,9,10,11,12,13,14,15,16,17,18,19,20,21,22,23,24], "offset": -25, "labelOverlap": false, "labelPadding": 10, "titlePadding": 12}},
                "y": {"field": "Pumped", "type": "quantitative", "title": "Power output (GW)",
                  "axis": {"values": [-10,0,10,20,30,40,50,60,70,80,90,100], "labelOverlap": false}}
              }
            },
            {
              "transform": [{"filter": "datum.p === 'BL'"}],
              "mark": {"type": "line", "color": "#000000", "strokeWidth": 1.4},
              "encoding": {
                "x": {"field": "h", "type": "quantitative", "title": "Hour of the day",
                  "axis": {"values": [1,2,3,4,5,6,7,8,9,10,11,12,13,14,15,16,17,18,19,20,21,22,23,24], "offset": -25, "labelOverlap": false, "labelPadding": 10, "titlePadding": 12}},
                "y": {"field": "Demand", "type": "quantitative", "title": "Power output (GW)",
                  "axis": {"values": [-10,0,10,20,30,40,50,60,70,80,90,100], "labelOverlap": false}}
              }
            },
            {
              "data": {"name": "notes"},
              "transform": [{"filter": "datum.p === 'BL'"}],
              "mark": {"type": "text", "color": "#ffffff", "fontWeight": "bold", "fontSize": 11},
              "encoding": {
                "x": {"datum": 12.95, "type": "quantitative", "title": "Hour of the day",
                  "axis": {"values": [1,2,3,4,5,6,7,8,9,10,11,12,13,14,15,16,17,18,19,20,21,22,23,24], "offset": -25, "labelOverlap": false, "labelPadding": 10, "titlePadding": 12}},
                "y": {"datum": 33.6, "type": "quantitative", "title": "Power output (GW)",
                  "axis": {"values": [-10,0,10,20,30,40,50,60,70,80,90,100], "labelOverlap": false}},
                "text": {"field": "label"}
              }
            }
          ]
        },
        {
          "width": 263, "height": 272,
          "data": {"name": "mix"},
          "layer": [
            {
              "transform": [
                {"filter": "datum.p === 'BR'"},
                {"fold": ["Nuclear", "Biomass", "Coal", "Gas", "Oil", "Wind", "Solar", "Hydro"], "as": ["source", "gw"]},
                {"calculate": "indexof(['Nuclear','Biomass','Coal','Gas','Oil','Wind','Solar','Hydro'], datum.source)", "as": "rank"}
              ],
              "mark": {"type": "area", "opacity": 1},
              "encoding": {
                "x": {"field": "h", "type": "quantitative", "title": "Hour of the day", "scale": {"domain": [0.636, 24.545], "nice": false, "zero": false},
                  "axis": {"values": [1,2,3,4,5,6,7,8,9,10,11,12,13,14,15,16,17,18,19,20,21,22,23,24], "offset": -25, "labelOverlap": false, "labelPadding": 10, "titlePadding": 12}},
                "y": {"field": "gw", "type": "quantitative", "stack": "zero", "title": null, "scale": {"domain": [-10, 100], "nice": false, "zero": false},
                  "axis": {"values": [-10,0,10,20,30,40,50,60,70,80,90], "labels": false}},
                "color": {"field": "source", "type": "nominal", "legend": null,
                  "scale": {"domain": ["Hydro", "Solar", "Wind", "Oil", "Gas", "Coal", "Biomass", "Nuclear"], "range": ["#00B0F0", "#FFFF00", "#C6D9F1", "#8064A2", "#F79646", "#808080", "#9BBB59", "#C00000"]}},
                "order": {"field": "rank", "type": "quantitative"}
              }
            },
            {
              "transform": [{"filter": "datum.p === 'BR'"}],
              "mark": {"type": "area", "opacity": 1,
                "color": {"gradient": "linear", "x1": 0, "y1": 0, "x2": 1, "y2": 0.04, "stops": [
                  {"offset": 0, "color": "#0AADEB"}, {"offset": 0.01, "color": "#FFFFFF"}, {"offset": 0.02, "color": "#0AADEB"}, {"offset": 0.03, "color": "#FFFFFF"}, {"offset": 0.04, "color": "#0AADEB"}, {"offset": 0.05, "color": "#FFFFFF"}, {"offset": 0.06, "color": "#0AADEB"}, {"offset": 0.07, "color": "#FFFFFF"}, {"offset": 0.08, "color": "#0AADEB"}, {"offset": 0.09, "color": "#FFFFFF"},
                  {"offset": 0.1, "color": "#0AADEB"}, {"offset": 0.11, "color": "#FFFFFF"}, {"offset": 0.12, "color": "#0AADEB"}, {"offset": 0.13, "color": "#FFFFFF"}, {"offset": 0.14, "color": "#0AADEB"}, {"offset": 0.15, "color": "#FFFFFF"}, {"offset": 0.16, "color": "#0AADEB"}, {"offset": 0.17, "color": "#FFFFFF"}, {"offset": 0.18, "color": "#0AADEB"}, {"offset": 0.19, "color": "#FFFFFF"},
                  {"offset": 0.2, "color": "#0AADEB"}, {"offset": 0.21, "color": "#FFFFFF"}, {"offset": 0.22, "color": "#0AADEB"}, {"offset": 0.23, "color": "#FFFFFF"}, {"offset": 0.24, "color": "#0AADEB"}, {"offset": 0.25, "color": "#FFFFFF"}, {"offset": 0.26, "color": "#0AADEB"}, {"offset": 0.27, "color": "#FFFFFF"}, {"offset": 0.28, "color": "#0AADEB"}, {"offset": 0.29, "color": "#FFFFFF"},
                  {"offset": 0.3, "color": "#0AADEB"}, {"offset": 0.31, "color": "#FFFFFF"}, {"offset": 0.32, "color": "#0AADEB"}, {"offset": 0.33, "color": "#FFFFFF"}, {"offset": 0.34, "color": "#0AADEB"}, {"offset": 0.35, "color": "#FFFFFF"}, {"offset": 0.36, "color": "#0AADEB"}, {"offset": 0.37, "color": "#FFFFFF"}, {"offset": 0.38, "color": "#0AADEB"}, {"offset": 0.39, "color": "#FFFFFF"},
                  {"offset": 0.4, "color": "#0AADEB"}, {"offset": 0.41, "color": "#FFFFFF"}, {"offset": 0.42, "color": "#0AADEB"}, {"offset": 0.43, "color": "#FFFFFF"}, {"offset": 0.44, "color": "#0AADEB"}, {"offset": 0.45, "color": "#FFFFFF"}, {"offset": 0.46, "color": "#0AADEB"}, {"offset": 0.47, "color": "#FFFFFF"}, {"offset": 0.48, "color": "#0AADEB"}, {"offset": 0.49, "color": "#FFFFFF"},
                  {"offset": 0.5, "color": "#0AADEB"}, {"offset": 0.51, "color": "#FFFFFF"}, {"offset": 0.52, "color": "#0AADEB"}, {"offset": 0.53, "color": "#FFFFFF"}, {"offset": 0.54, "color": "#0AADEB"}, {"offset": 0.55, "color": "#FFFFFF"}, {"offset": 0.56, "color": "#0AADEB"}, {"offset": 0.57, "color": "#FFFFFF"}, {"offset": 0.58, "color": "#0AADEB"}, {"offset": 0.59, "color": "#FFFFFF"},
                  {"offset": 0.6, "color": "#0AADEB"}, {"offset": 0.61, "color": "#FFFFFF"}, {"offset": 0.62, "color": "#0AADEB"}, {"offset": 0.63, "color": "#FFFFFF"}, {"offset": 0.64, "color": "#0AADEB"}, {"offset": 0.65, "color": "#FFFFFF"}, {"offset": 0.66, "color": "#0AADEB"}, {"offset": 0.67, "color": "#FFFFFF"}, {"offset": 0.68, "color": "#0AADEB"}, {"offset": 0.69, "color": "#FFFFFF"},
                  {"offset": 0.7, "color": "#0AADEB"}, {"offset": 0.71, "color": "#FFFFFF"}, {"offset": 0.72, "color": "#0AADEB"}, {"offset": 0.73, "color": "#FFFFFF"}, {"offset": 0.74, "color": "#0AADEB"}, {"offset": 0.75, "color": "#FFFFFF"}, {"offset": 0.76, "color": "#0AADEB"}, {"offset": 0.77, "color": "#FFFFFF"}, {"offset": 0.78, "color": "#0AADEB"}, {"offset": 0.79, "color": "#FFFFFF"},
                  {"offset": 0.8, "color": "#0AADEB"}, {"offset": 0.81, "color": "#FFFFFF"}, {"offset": 0.82, "color": "#0AADEB"}, {"offset": 0.83, "color": "#FFFFFF"}, {"offset": 0.84, "color": "#0AADEB"}, {"offset": 0.85, "color": "#FFFFFF"}, {"offset": 0.86, "color": "#0AADEB"}, {"offset": 0.87, "color": "#FFFFFF"}, {"offset": 0.88, "color": "#0AADEB"}, {"offset": 0.89, "color": "#FFFFFF"},
                  {"offset": 0.9, "color": "#0AADEB"}, {"offset": 0.91, "color": "#FFFFFF"}, {"offset": 0.92, "color": "#0AADEB"}, {"offset": 0.93, "color": "#FFFFFF"}, {"offset": 0.94, "color": "#0AADEB"}, {"offset": 0.95, "color": "#FFFFFF"}, {"offset": 0.96, "color": "#0AADEB"}, {"offset": 0.97, "color": "#FFFFFF"}, {"offset": 0.98, "color": "#0AADEB"}, {"offset": 0.99, "color": "#FFFFFF"}, {"offset": 1, "color": "#0AADEB"}]}},
              "encoding": {
                "x": {"field": "h", "type": "quantitative", "title": "Hour of the day",
                  "axis": {"values": [1,2,3,4,5,6,7,8,9,10,11,12,13,14,15,16,17,18,19,20,21,22,23,24], "offset": -25, "labelOverlap": false, "labelPadding": 10, "titlePadding": 12}},
                "y": {"field": "Pumped", "type": "quantitative", "title": null,
                  "axis": {"values": [-10,0,10,20,30,40,50,60,70,80,90], "labels": false}}
              }
            },
            {
              "transform": [{"filter": "datum.p === 'BR'"}],
              "mark": {"type": "line", "color": "#000000", "strokeWidth": 1.4},
              "encoding": {
                "x": {"field": "h", "type": "quantitative", "title": "Hour of the day",
                  "axis": {"values": [1,2,3,4,5,6,7,8,9,10,11,12,13,14,15,16,17,18,19,20,21,22,23,24], "offset": -25, "labelOverlap": false, "labelPadding": 10, "titlePadding": 12}},
                "y": {"field": "Demand", "type": "quantitative", "title": null,
                  "axis": {"values": [-10,0,10,20,30,40,50,60,70,80,90], "labels": false}}
              }
            },
            {
              "data": {"name": "notes"},
              "transform": [{"filter": "datum.p === 'BR'"}],
              "mark": {"type": "text", "color": "#ffffff", "fontWeight": "bold", "fontSize": 11},
              "encoding": {
                "x": {"datum": 12.8, "type": "quantitative", "title": "Hour of the day",
                  "axis": {"values": [1,2,3,4,5,6,7,8,9,10,11,12,13,14,15,16,17,18,19,20,21,22,23,24], "offset": -25, "labelOverlap": false, "labelPadding": 10, "titlePadding": 12}},
                "y": {"datum": 36.4, "type": "quantitative", "title": null,
                  "axis": {"values": [-10,0,10,20,30,40,50,60,70,80,90], "labels": false}},
                "text": {"field": "label"}
              }
            }
          ]
        },
        {
          "width": 85, "height": 272,
          "data": {"name": "keys"},
          "encoding": {
            "y": {"field": "label", "type": "nominal", "axis": null,
              "scale": {"type": "point", "padding": 0, "range": [62, 272],
                "domain": ["Hydro production", "Solar", "Wind", "Oil", "Gas", "Coal", "Biomass and\nothers", "Nuclear", "Pumped hydro", "Net demand =\ntotal production"]}}
          },
          "layer": [
            {
              "transform": [{"filter": "datum.k !== 'Pumped' && datum.k !== 'Demand'"}],
              "mark": {"type": "tick", "orient": "horizontal", "thickness": 7, "size": 16, "opacity": 1},
              "encoding": {
                "x": {"datum": 1.5, "type": "quantitative", "axis": null, "scale": {"domain": [0, 85], "nice": false, "zero": false}},
                "color": {"field": "k", "type": "nominal", "legend": null,
                  "scale": {"domain": ["Hydro", "Solar", "Wind", "Oil", "Gas", "Coal", "Biomass", "Nuclear"], "range": ["#00B0F0", "#FFFF00", "#C6D9F1", "#8064A2", "#F79646", "#808080", "#9BBB59", "#C00000"]}}
              }
            },
            {
              "transform": [{"filter": "datum.k === 'Pumped'"}],
              "mark": {"type": "tick", "orient": "horizontal", "thickness": 7, "size": 16, "opacity": 1,
                "color": {"gradient": "linear", "x1": 0, "y1": 0, "x2": 1, "y2": 0.44, "stops": [
                  {"offset": 0, "color": "#0AADEB"}, {"offset": 0.125, "color": "#FFFFFF"}, {"offset": 0.25, "color": "#0AADEB"}, {"offset": 0.375, "color": "#FFFFFF"}, {"offset": 0.5, "color": "#0AADEB"}, {"offset": 0.625, "color": "#FFFFFF"}, {"offset": 0.75, "color": "#0AADEB"}, {"offset": 0.875, "color": "#FFFFFF"}, {"offset": 1, "color": "#0AADEB"}]}},
              "encoding": {"x": {"datum": 1.5, "type": "quantitative"}}
            },
            {
              "transform": [{"filter": "datum.k === 'Demand'"}],
              "mark": {"type": "tick", "orient": "horizontal", "thickness": 1.5, "size": 16, "opacity": 1, "color": "#000000"},
              "encoding": {"x": {"datum": 1.5, "type": "quantitative"}}
            },
            {
              "mark": {"type": "text", "align": "left", "baseline": "top", "dy": -4.5, "lineBreak": "\n", "lineHeight": 11, "fontSize": 8.5, "color": "#4a4a4a"},
              "encoding": {"x": {"datum": 10.5, "type": "quantitative"}, "text": {"field": "label"}}
            }
          ]
        }
      ]
    }
  ]
}
